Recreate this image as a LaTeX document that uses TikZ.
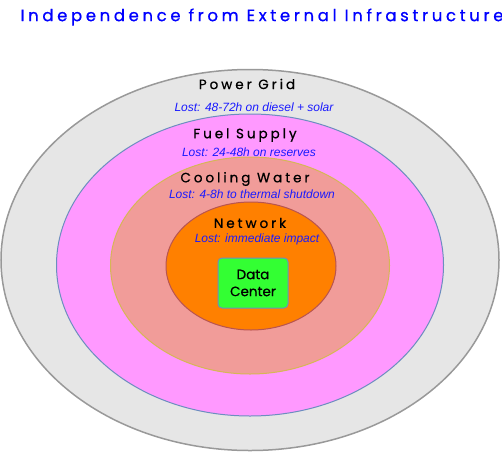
\documentclass[tikz,border=0pt]{standalone}
\usepackage{fontspec}
\usetikzlibrary{shapes.geometric}
\setmainfont{Liberation Sans}
\newfontfamily\handfont[LetterSpace=22, FakeBold=0.8]{Poppins}
\newfontfamily\boxfont[FakeBold=0.6]{Poppins}
\definecolor{gridfill}{HTML}{E6E6E6}
\definecolor{griddraw}{HTML}{999999}
\definecolor{fuelfill}{HTML}{FF99FF}
\definecolor{fueldraw}{HTML}{6C8EBF}
\definecolor{coolfill}{HTML}{F19C99}
\definecolor{cooldraw}{HTML}{D6B656}
\definecolor{netfill}{HTML}{FF8000}
\definecolor{netdraw}{HTML}{B85450}
\definecolor{dcfill}{HTML}{33FF33}
\definecolor{losttext}{HTML}{1A1AFF}

\begin{document}
\begin{tikzpicture}[x=1pt, y=-1pt, line width=1pt,
  ring/.style = {draw, ellipse, inner sep=0pt},
  ringname/.style = {font=\handfont\fontsize{13.5}{15}\selectfont},
  lost/.style = {font=\itshape\fontsize{12}{14}\selectfont, text=losttext}]
\useasboundingbox (0,0) rectangle (502,452);
\node (title) at (262,17) {\handfont\fontsize{16.5}{18}\selectfont\color{blue}Independence from External Infrastructure};
\node[ring, fill=gridfill, draw=griddraw, line width=1.5pt, minimum width=498pt, minimum height=381pt] (grid) at (250,260) {};
\node[ring, fill=fuelfill, draw=fueldraw, minimum width=387pt, minimum height=302pt] (fuel) at (250,265) {};
\node[ring, fill=coolfill, draw=cooldraw, minimum width=279pt, minimum height=217pt] (cool) at (250,265.5) {};
\node[ring, fill=netfill, draw=netdraw, minimum width=170pt, minimum height=128pt] (net) at (251,266) {};
\node[draw=fueldraw, fill=dcfill, rounded corners=4pt, minimum width=70pt, minimum height=50pt, align=center, font=\boxfont\fontsize{13.5}{17}\selectfont] (dc) at (253,283) {Data\\Center};
\node[ringname] (gridname) at (247,84) {Power Grid};
\node[lost] (gridlost) at (254,107) {Lost: 48-72h on diesel + solar};
\node[ringname] (fuelname) at (245,135) {Fuel Supply};
\node[lost] (fuellost) at (249,152) {Lost: 24-48h on reserves};
\node[ringname] (coolname) at (245,179) {Cooling Water};
\node[lost] (coollost) at (252,194) {Lost: 4-8h to thermal shutdown};
\node[ringname] (netname) at (250,223) {Network};
\node[lost] (netlost) at (257,239) {Lost: immediate impact};
\end{tikzpicture}
\end{document}
